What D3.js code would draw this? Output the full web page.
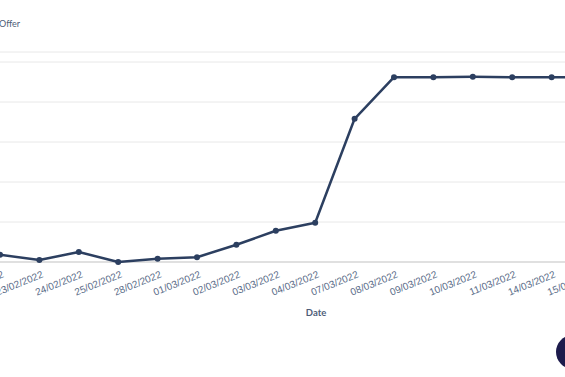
<!DOCTYPE html>
<html>
<head>
<meta charset="utf-8">
<script src="https://cdn.jsdelivr.net/npm/d3@7"></script>
<style>
  body { margin: 0; background: #fff; overflow: hidden; }
  svg { display: block; font-family: Lato, "Open Sans", sans-serif; }
</style>
</head>
<body>
<div id="chart"></div>
<script>
// data (left part of the chart is cropped)
const dates = ["22/02/2022", "23/02/2022", "24/02/2022", "25/02/2022", "28/02/2022",
  "01/03/2022", "02/03/2022", "03/03/2022", "04/03/2022", "07/03/2022",
  "08/03/2022", "09/03/2022", "10/03/2022", "11/03/2022", "14/03/2022", "15/03/2022"];
const offers = [0.18, 0.05, 0.25, 0, 0.08, 0.12, 0.43, 0.78, 0.98, 3.58,
  4.62, 4.62, 4.63, 4.62, 4.62, 4.62];
const yTicks = [0, 1, 2, 3, 4, 5];

const width = 565;
const height = 377;
const margin = { top: 52, bottom: 115 };

const svg = d3.select("#chart")
  .append("svg")
  .attr("width", width)
  .attr("height", height);

const x = d3.scalePoint()
  .domain(dates)
  .range([0, 591]);

const y = d3.scaleLinear()
  .domain([0, 5.25])
  .range([height - margin.bottom, margin.top]);

// gridlines
svg.append("g")
  .selectAll("line")
  .data(yTicks.concat([5.25]))
  .join("line")
  .attr("x1", 0)
  .attr("x2", width)
  .attr("y1", d => y(d))
  .attr("y2", d => y(d))
  .attr("stroke", d => d === 0 ? "#d6d6d6" : "#e8e8e8")
  .attr("stroke-width", d => d === 0 ? 1.5 : 1);

// x axis labels
const xAxis = svg.append("g")
  .attr("transform", `translate(0,${y(0)})`)
  .call(d3.axisBottom(x).tickSize(0).tickPadding(0));
xAxis.select(".domain").remove();
xAxis.selectAll("text")
  .attr("fill", "#5a6c88")
  .style("font-size", "10px")
  .attr("text-anchor", "end")
  .attr("dy", 0)
  .attr("transform", "translate(4,15) rotate(-22)");

// line
const line = d3.line()
  .x((d, i) => x(dates[i]))
  .y(d => y(d));

svg.append("path")
  .datum(offers)
  .attr("fill", "none")
  .attr("stroke", "#2c3f60")
  .attr("stroke-width", 2.5)
  .attr("stroke-linejoin", "round")
  .attr("d", line);

svg.selectAll(".dot")
  .data(offers)
  .join("circle")
  .attr("class", "dot")
  .attr("cx", (d, i) => x(dates[i]))
  .attr("cy", d => y(d))
  .attr("r", 3)
  .attr("fill", "#2c3f60");

// titles
svg.append("text")
  .attr("x", -1)
  .attr("y", 27)
  .attr("fill", "#4d5d78")
  .style("font-size", "9px")
  .text("Offer");

svg.append("text")
  .attr("x", 316)
  .attr("y", 316)
  .attr("text-anchor", "middle")
  .attr("fill", "#4d5d78")
  .style("font-size", "9.5px")
  .style("font-weight", "bold")
  .text("Date");

// chat bubble in the corner
svg.append("circle")
  .attr("cx", 573)
  .attr("cy", 352)
  .attr("r", 17)
  .attr("fill", "#1d1b4c");
</script>
</body>
</html>
